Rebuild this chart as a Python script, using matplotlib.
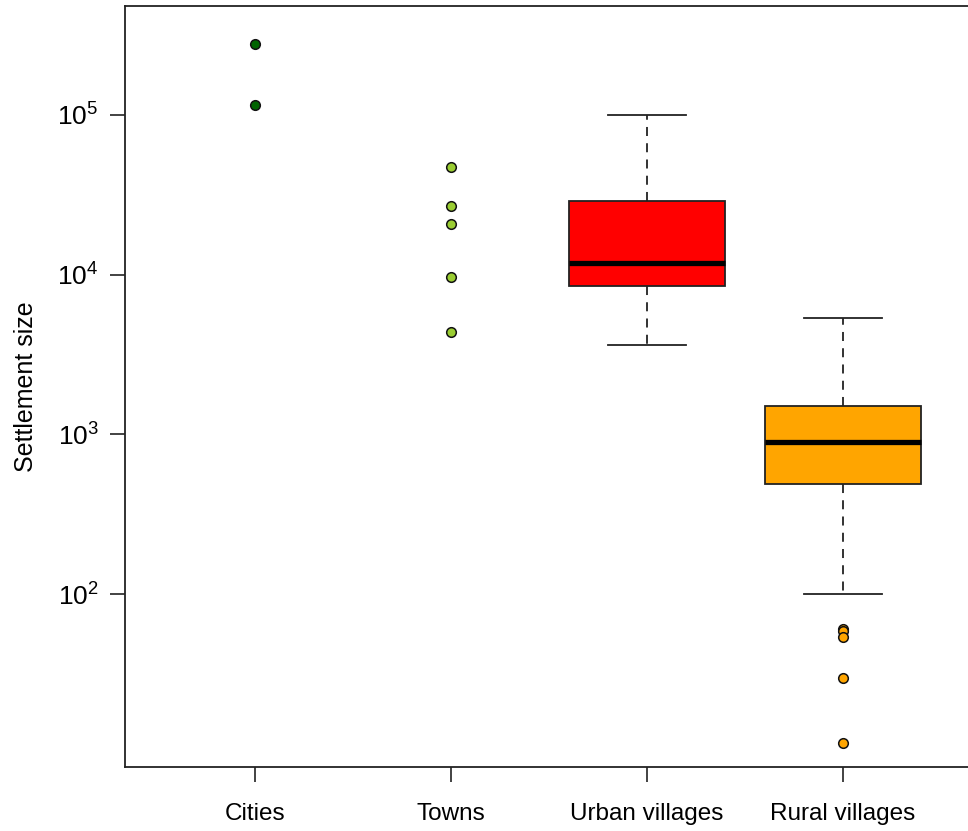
import matplotlib
matplotlib.use("Agg")
import matplotlib.pyplot as plt
from matplotlib.ticker import FixedLocator, NullLocator

plt.rcParams['font.family'] = ['Liberation Sans', 'DejaVu Sans']

categories = ["Cities", "Towns", "Urban villages", "Rural villages"]
colors = ["#006400", "#9ACD32", "#FF0000", "#FFA500"]

# Groups too small for a box: drawn as individual points
cities = [278000, 115500]
towns = [47300, 27000, 20800, 9700, 4400]

# Box summaries: lower whisker, Q1, median, Q3, upper whisker
urban_stats = [3650, 8500, 11900, 29000, 100000]
rural_stats = [100, 487, 890, 1500, 5380]
rural_outliers = [60, 58.5, 54, 30, 11.7]

fig = plt.figure(figsize=(9.68, 8.31), dpi=100)
W, H = 968, 831
left_px, right_px, top_px, bot_px = 125, 990, 6, 767
ax = fig.add_axes([left_px / W, (H - bot_px) / H,
                   (right_px - left_px) / W, (bot_px - top_px) / H])

ax.set_yscale('log')

def px_to_x(px):
    return (px - 59) / 196.0

ax.set_xlim(px_to_x(left_px), px_to_x(right_px))
ax.set_ylim(10 ** (2 - 173 / 159.7), 10 ** (5 + 109 / 159.7))

def make_stats(s, fliers):
    return dict(whislo=s[0], q1=s[1], med=s[2], q3=s[3], whishi=s[4], fliers=fliers)

box_data = [(3, urban_stats, [], colors[2]), (4, rural_stats, rural_outliers, colors[3])]
for pos, s, fl, c in box_data:
    ax.bxp([make_stats(s, fl)], positions=[pos], widths=0.8, patch_artist=True,
           showfliers=False,
           boxprops=dict(facecolor=c, edgecolor='#222222', linewidth=1.3),
           medianprops=dict(color='black', linewidth=3.8, solid_capstyle='butt'),
           whiskerprops=dict(color='#222222', linewidth=1.3, linestyle=(0, (5, 4))),
           capprops=dict(color='#222222', linewidth=1.3),
           capwidths=0.4, manage_ticks=False, zorder=2)

point_kw = dict(s=48, edgecolors='#111111', linewidths=1.1, zorder=3)
ax.scatter([1] * len(cities), cities, c=colors[0], **point_kw)
ax.scatter([2] * len(towns), towns, c=colors[1], **point_kw)
ax.scatter([4] * len(rural_outliers), rural_outliers, c=colors[3], **point_kw)

ax.xaxis.set_major_locator(FixedLocator([1, 2, 3, 4]))
ax.set_xticklabels(categories, fontsize=17.5)
ax.yaxis.set_major_locator(FixedLocator([1e2, 1e3, 1e4, 1e5]))
ax.yaxis.set_minor_locator(NullLocator())
ax.set_yticklabels([r'$\mathregular{10^{2}}$', r'$\mathregular{10^{3}}$',
                    r'$\mathregular{10^{4}}$', r'$\mathregular{10^{5}}$'], fontsize=19)
ax.tick_params(axis='both', direction='out', length=11, width=1.2, color='#222222')
ax.tick_params(axis='x', pad=15)
ax.tick_params(axis='y', pad=8)
ax.set_ylabel("Settlement size", fontsize=18, labelpad=14)

for side in ['left', 'top', 'bottom']:
    ax.spines[side].set_linewidth(1.3)
    ax.spines[side].set_color('#222222')
ax.spines['right'].set_visible(False)

fig.savefig("out.png", dpi=100)
